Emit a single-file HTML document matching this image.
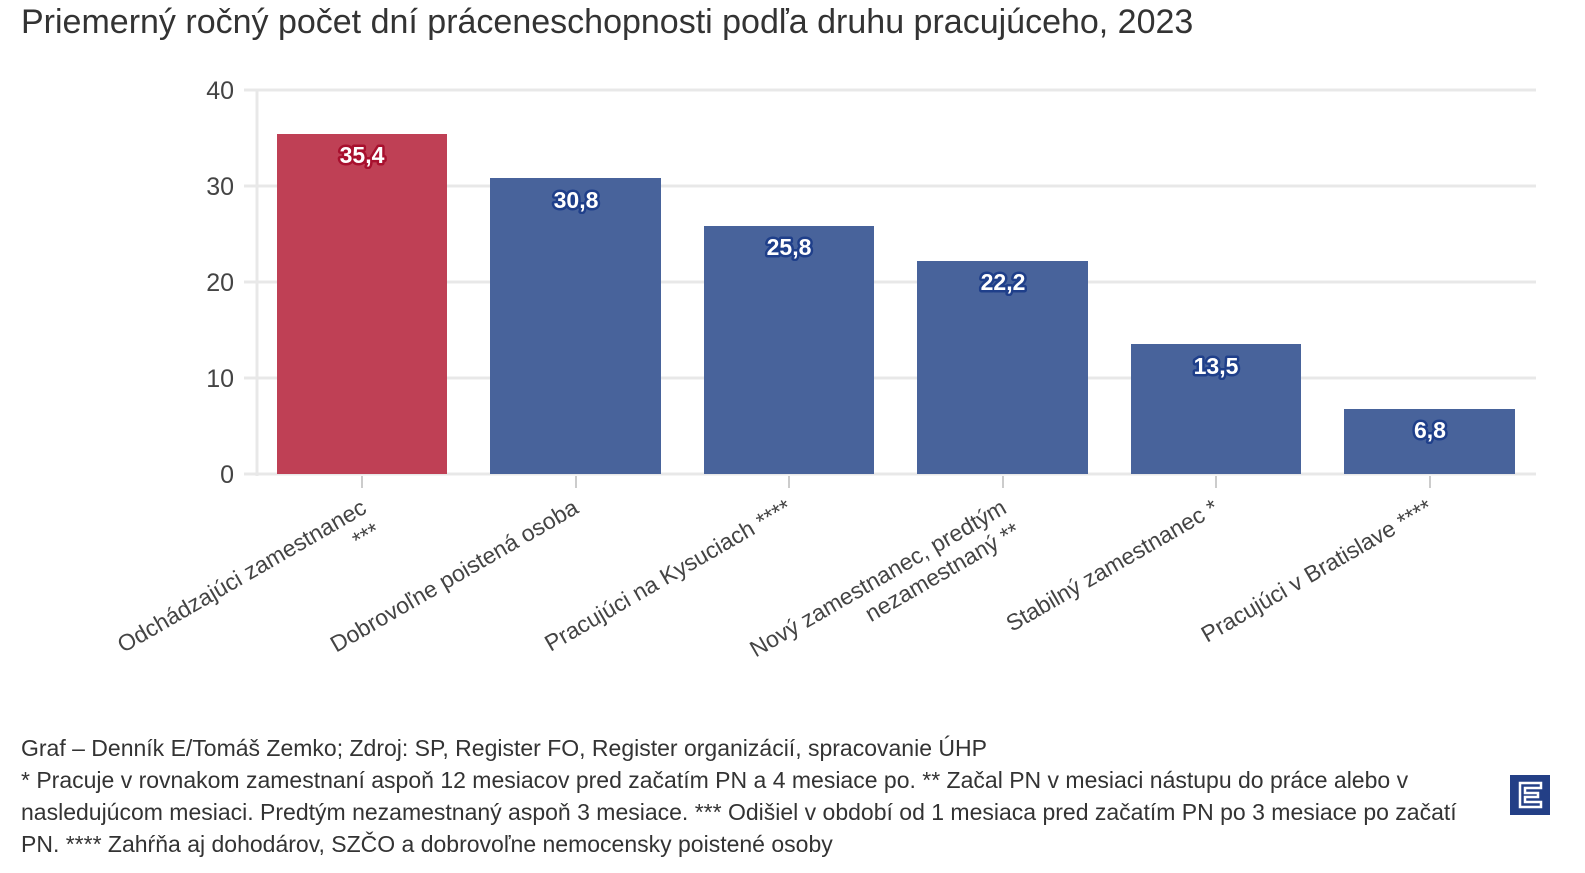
<!DOCTYPE html>
<html><head><meta charset="utf-8"><style>
body{margin:0;background:#fff;width:1585px;height:873px;overflow:hidden;font-family:"Liberation Sans Narrow","Liberation Sans",sans-serif;}
.t{position:absolute;left:21px;top:3px;font-size:34px;color:#333;white-space:nowrap;}
.f{position:absolute;left:21px;top:732px;font-size:23px;line-height:32px;color:#333;width:1470px;}
.logo{position:absolute;left:1510px;top:775px;width:40px;height:40px;background:#233f86;}
</style></head><body>
<div class="t">Priemerný ročný počet dní práceneschopnosti podľa druhu pracujúceho, 2023</div>
<svg width="1585" height="873" style="position:absolute;left:0;top:0" font-family="Liberation Sans Narrow, Liberation Sans, sans-serif">
<g stroke="#e8e8e8" stroke-width="3">
<line x1="244" x2="1536" y1="90" y2="90"/><line x1="244" x2="1536" y1="186" y2="186"/><line x1="244" x2="1536" y1="282" y2="282"/><line x1="244" x2="1536" y1="378" y2="378"/><line x1="244" x2="1536" y1="474" y2="474"/>
<line x1="257" x2="257" y1="90" y2="476"/>
</g>
<g font-size="25" fill="#444" text-anchor="end">
<text x="234" y="99">40</text><text x="234" y="195">30</text><text x="234" y="291">20</text><text x="234" y="387">10</text><text x="234" y="483">0</text>
</g>
<g stroke="#ccc" stroke-width="2">
<line x1="362" x2="362" y1="476" y2="488"/><line x1="576" x2="576" y1="476" y2="488"/><line x1="789" x2="789" y1="476" y2="488"/><line x1="1003" x2="1003" y1="476" y2="488"/><line x1="1216" x2="1216" y1="476" y2="488"/><line x1="1430" x2="1430" y1="476" y2="488"/>
</g>
<rect x="277" y="134" width="170" height="340" fill="#bf4055"/>
<g fill="#48639b">
<rect x="490" y="178" width="171" height="296"/><rect x="704" y="226" width="170" height="248"/><rect x="917" y="261" width="171" height="213"/><rect x="1131" y="344" width="170" height="130"/><rect x="1344" y="409" width="171" height="65"/>
</g>
<g font-size="23" font-weight="bold" fill="#fff" text-anchor="middle" stroke-width="5" paint-order="stroke" stroke-linejoin="round">
<text x="362" y="163" stroke="#a8102e">35,4</text>
<text x="576" y="208" stroke="#1f3f8a">30,8</text>
<text x="789" y="255" stroke="#1f3f8a">25,8</text>
<text x="1003" y="290" stroke="#1f3f8a">22,2</text>
<text x="1216" y="374" stroke="#1f3f8a">13,5</text>
<text x="1430" y="438" stroke="#1f3f8a">6,8</text>
</g>
<g font-size="23" fill="#444" text-anchor="end">
<g transform="translate(368,512) rotate(-30)"><text>Odchádzajúci zamestnanec</text><text y="27">***</text></g>
<g transform="translate(580,512) rotate(-30)"><text>Dobrovoľne poistená osoba</text></g>
<g transform="translate(793,512) rotate(-30)"><text>Pracujúci na Kysuciach ****</text></g>
<g transform="translate(1008,512) rotate(-30)"><text>Nový zamestnanec, predtým</text><text y="27">nezamestnaný **</text></g>
<g transform="translate(1220,512) rotate(-30)"><text>Stabilný zamestnanec *</text></g>
<g transform="translate(1434,512) rotate(-30)"><text>Pracujúci v Bratislave ****</text></g>
</g>
</svg>
<div class="f">Graf – Denník E/Tomáš Zemko; Zdroj: SP, Register FO, Register organizácií, spracovanie ÚHP<br>* Pracuje v rovnakom zamestnaní aspoň 12 mesiacov pred začatím PN a 4 mesiace po. ** Začal PN v mesiaci nástupu do práce alebo v nasledujúcom mesiaci. Predtým nezamestnaný aspoň 3 mesiace. *** Odišiel v období od 1 mesiaca pred začatím PN po 3 mesiace po začatí PN. **** Zahŕňa aj dohodárov, SZČO a dobrovoľne nemocensky poistené osoby</div>
<div class="logo"><svg width="40" height="40"><path d="M10 8H31V13H15V18H28V22H15V27H31V32H10Z" fill="none" stroke="#fff" stroke-width="2.5"/></svg></div>
</body></html>
